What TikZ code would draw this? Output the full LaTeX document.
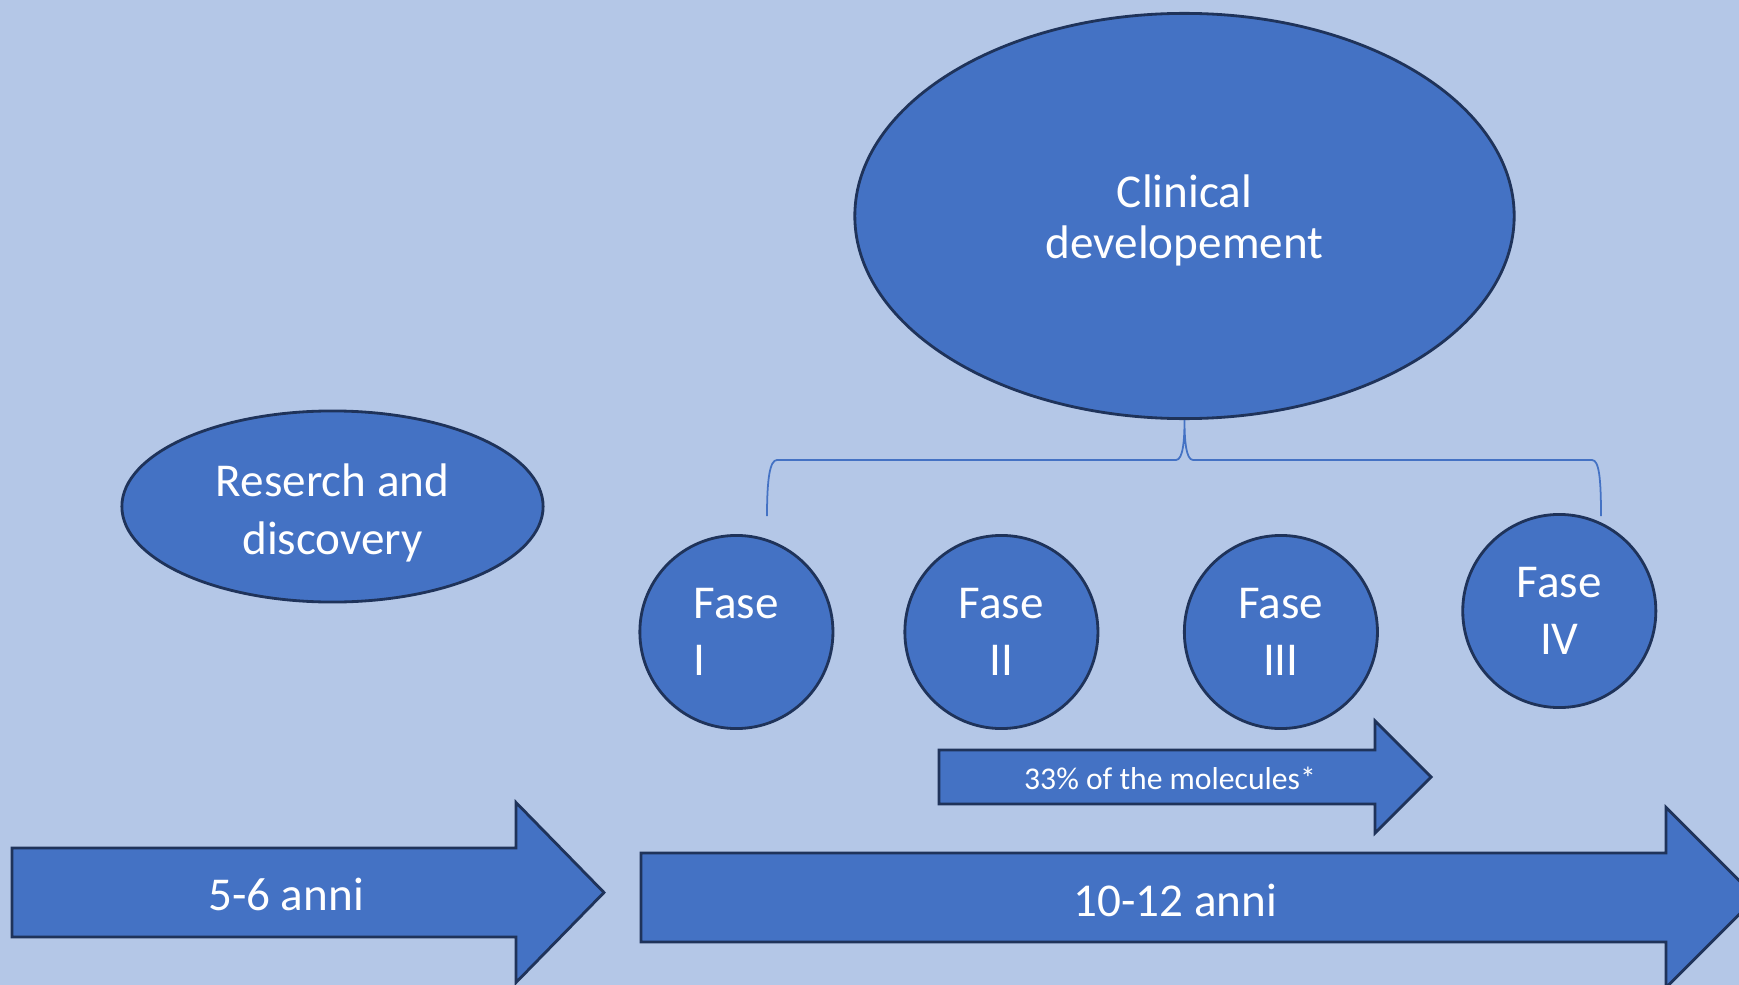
\documentclass[tikz,border=0pt]{standalone}
\usepackage{fontspec}
\setmainfont{Carlito}
\usetikzlibrary{shapes,calc,positioning}
\definecolor{slidebg}{HTML}{B4C7E7}
\definecolor{accblue}{HTML}{4472C4}
\definecolor{darkrim}{HTML}{1F335A}

\begin{document}
\begin{tikzpicture}[x=0.01cm,y=-0.01cm,
        bubble/.style={ellipse,draw=darkrim,fill=accblue,line width=0.8pt,inner sep=0,text=white,align=center},
        fase/.style={circle,draw=darkrim,fill=accblue,line width=0.8pt,minimum size=1.93cm,inner sep=0,text=white,align=center,font=\fontsize{13.4}{16.4}\selectfont},
        block/.style={draw=darkrim,fill=accblue,line width=0.8pt,line join=miter},
        label/.style={text=white,inner sep=0,font=\fontsize{13.4}{16}\selectfont},
        bracket/.style={draw=accblue,line width=0.5pt}]
        \clip (0,0) rectangle (1739,985);
        \fill[slidebg] (0,0) rectangle (1739,985);
        % ellipses
        \node[bubble,minimum width=6.59cm,minimum height=4.05cm,font=\fontsize{13.4}{14.5}\selectfont] (clin) at (1184.5,216) {};
        \node[label,align=center,font=\fontsize{13.4}{14.5}\selectfont] (clintext) at (1184.5,220) {Clinical\\developement};
        \node[bubble,minimum width=4.21cm,minimum height=1.91cm] (res) at (332.5,506.5) {};
        \node[label,align=center,font=\fontsize{13.4}{16.4}\selectfont] (restext) at (332.5,513) {Reserch and\\discovery};
        % phases
        \node[fase,align=left,text depth=-1pt] (f1) at (736.4,632) {Fase\\I};
        \node[fase,text depth=-1pt] (f2) at (1001.4,632) {Fase\\II};
        \node[fase,text depth=-1pt] (f3) at (1280.9,632) {Fase\\III};
        \node[fase,text depth=-1pt] (f4) at (1559.3,611) {Fase\\IV};
        % bracket
        \coordinate (bl) at (767,516);
        \coordinate (br) at (1601,516);
        \draw[bracket] (bl) .. controls (767,478) and (770,460) .. (777,460) -- (1176,460)
          .. controls (1183,460) and (1184.5,440) .. (clin.south)
          .. controls (1184.5,440) and (1186,460) .. (1193,460) -- (1592,460)
          .. controls (1599,460) and (1601,478) .. (br);
        % arrows
        \draw[block] (939,750) -- (1375,750) -- (1375,721) -- (1431,777) -- (1375,833) -- (1375,804) -- (939,804) -- cycle;
        \node[label,font=\fontsize{9}{11}\selectfont] (mol) at (1170,778) {33\% of the molecules*};
        \draw[block] (12,848) -- (516,848) -- (516,802.5) -- (604,892.5) -- (516,982.5) -- (516,937) -- (12,937) -- cycle;
        \node[label] (rd) at (286,894) {5-6 anni};
        \draw[block] (641,853) -- (1666,853) -- (1666,807.5) -- (1756,897.5) -- (1666,987.5) -- (1666,942) -- (641,942) -- cycle;
        \node[label] (cd) at (1175.5,900) {10-12 anni};
\end{tikzpicture}
\end{document}
